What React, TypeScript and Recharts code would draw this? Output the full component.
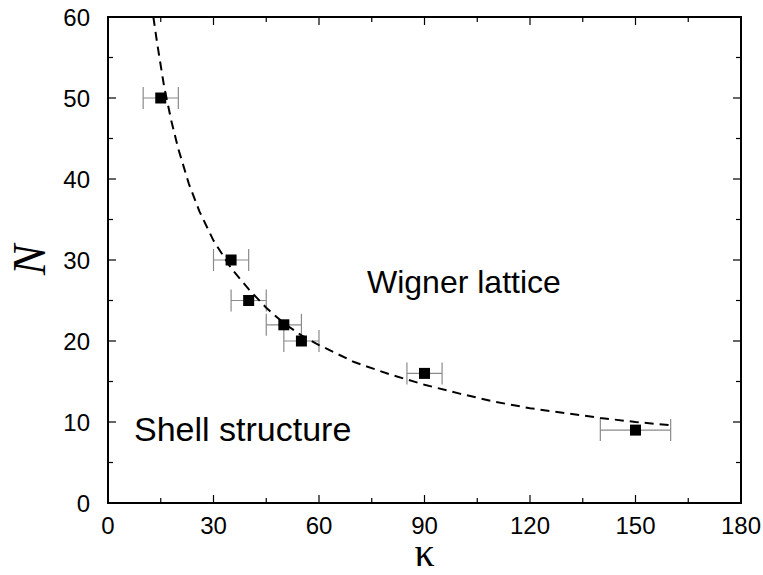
import React from "react";
import { ComposedChart, Scatter, XAxis, YAxis, ErrorBar, ReferenceArea } from "recharts";

// measured points (kappa, N) with horizontal error
const kappa = [15, 35, 40, 50, 55, 90, 150];
const nValues = [50, 30, 25, 22, 20, 16, 9];
const kappaErr = [5, 5, 5, 5, 5, 5, 10];

// dashed guide curve
const curveKappa = [12.9, 14, 16, 18, 20, 23, 26, 30, 35, 40, 45, 50, 55, 60, 70, 80, 90, 100, 110, 120, 130, 140, 150, 160];
const curveN = [60, 56.7, 51.3, 47.2, 43.7, 39.4, 36.0, 32.4, 29.0, 26.4, 24.1, 22.2, 20.7, 19.5, 17.4, 15.9, 14.6, 13.5, 12.5, 11.7, 11.1, 10.5, 10.0, 9.6];

const xTicks = [0, 15, 30, 45, 60, 75, 90, 105, 120, 135, 150, 165, 180];
const yTicks = [0, 5, 10, 15, 20, 25, 30, 35, 40, 45, 50, 55, 60];

const points = kappa.map((k, i) => ({ k, n: nValues[i], err: kappaErr[i] }));
const curve = curveKappa.map((k, i) => ({ k, n: curveN[i] }));

const W = 763;
const H = 575;
const TOP = 17;
const BOTTOM = 503;
const LEFT = 108;
const RIGHT = 741;
const sans = "'Liberation Sans', Arial, Helvetica, sans-serif";
const serif = "'Liberation Serif', 'Times New Roman', serif";

const XTick = (props: any) => {
  const { x, y, payload } = props;
  const major = payload.value % 30 === 0;
  const len = major ? 8 : 5;
  return (
    <g>
      <line x1={x} x2={x} y1={y} y2={y - len} stroke="#000" strokeWidth={1.2} />
      <line x1={x} x2={x} y1={TOP} y2={TOP + len} stroke="#000" strokeWidth={1.2} />
      {major && (
        <text x={x} y={y + 31} textAnchor="middle" fontFamily={sans} fontSize={24} fill="#000">
          {payload.value}
        </text>
      )}
    </g>
  );
};

const YTick = (props: any) => {
  const { x, y, payload } = props;
  const major = payload.value % 10 === 0;
  const len = major ? 8 : 5;
  return (
    <g>
      <line x1={x} x2={x + len} y1={y} y2={y} stroke="#000" strokeWidth={1.2} />
      <line x1={RIGHT} x2={RIGHT - len} y1={y} y2={y} stroke="#000" strokeWidth={1.2} />
      {major && (
        <text x={x - 18} y={y + 9} textAnchor="end" fontFamily={sans} fontSize={24} fill="#000">
          {payload.value}
        </text>
      )}
    </g>
  );
};

const SquareDot = (props: any) => {
  const { cx, cy } = props;
  if (cx == null || cy == null) return <g />;
  return <rect x={cx - 5.5} y={cy - 5.5} width={11} height={11} fill="#000" />;
};

const NoDot = () => <g />;

export default function App() {
  return (
    <div style={{ position: "absolute", left: 0, top: 0, width: W, height: H, background: "#fff" }}>
      <ComposedChart width={W} height={H} margin={{ top: TOP, right: W - RIGHT, bottom: 0, left: 0 }}>
        <XAxis
          dataKey="k"
          type="number"
          domain={[0, 180]}
          ticks={xTicks}
          interval={0}
          height={H - BOTTOM}
          tickSize={0}
          tickMargin={0}
          axisLine={false}
          tickLine={false}
          tick={<XTick />}
        />
        <YAxis
          dataKey="n"
          type="number"
          domain={[0, 60]}
          ticks={yTicks}
          interval={0}
          width={LEFT}
          tickSize={0}
          tickMargin={0}
          axisLine={false}
          tickLine={false}
          tick={<YTick />}
        />
        <ReferenceArea x1={0} x2={180} y1={0} y2={60} fill="none" stroke="#000" strokeWidth={2} />
        <Scatter
          data={curve}
          dataKey="n"
          line={{ stroke: "#000", strokeWidth: 2, strokeDasharray: "9 6" }}
          lineType="joint"
          shape={<NoDot />}
          isAnimationActive={false}
        />
        <Scatter data={points} dataKey="n" shape={<SquareDot />} isAnimationActive={false}>
          <ErrorBar dataKey="err" direction="x" width={11} stroke="#8a8a8a" strokeWidth={1.2} />
        </Scatter>
      </ComposedChart>
      <svg
        width={W}
        height={H}
        style={{ position: "absolute", left: 0, top: 0, pointerEvents: "none" }}
      >
        <text x={367} y={293} fontFamily={sans} fontSize={32} fill="#000">
          Wigner lattice
        </text>
        <text x={134} y={441} fontFamily={sans} fontSize={34} fill="#000">
          Shell structure
        </text>
        <text x={(LEFT + RIGHT) / 2} y={566} textAnchor="middle" fontFamily={serif} fontSize={40} fill="#000">
          κ
        </text>
        <text
          x={29}
          y={(TOP + BOTTOM) / 2}
          textAnchor="middle"
          dominantBaseline="central"
          fontFamily={serif}
          fontStyle="italic"
          fontSize={46}
          fill="#000"
          transform={`rotate(-90 29 ${(TOP + BOTTOM) / 2})`}
        >
          N
        </text>
      </svg>
    </div>
  );
}
